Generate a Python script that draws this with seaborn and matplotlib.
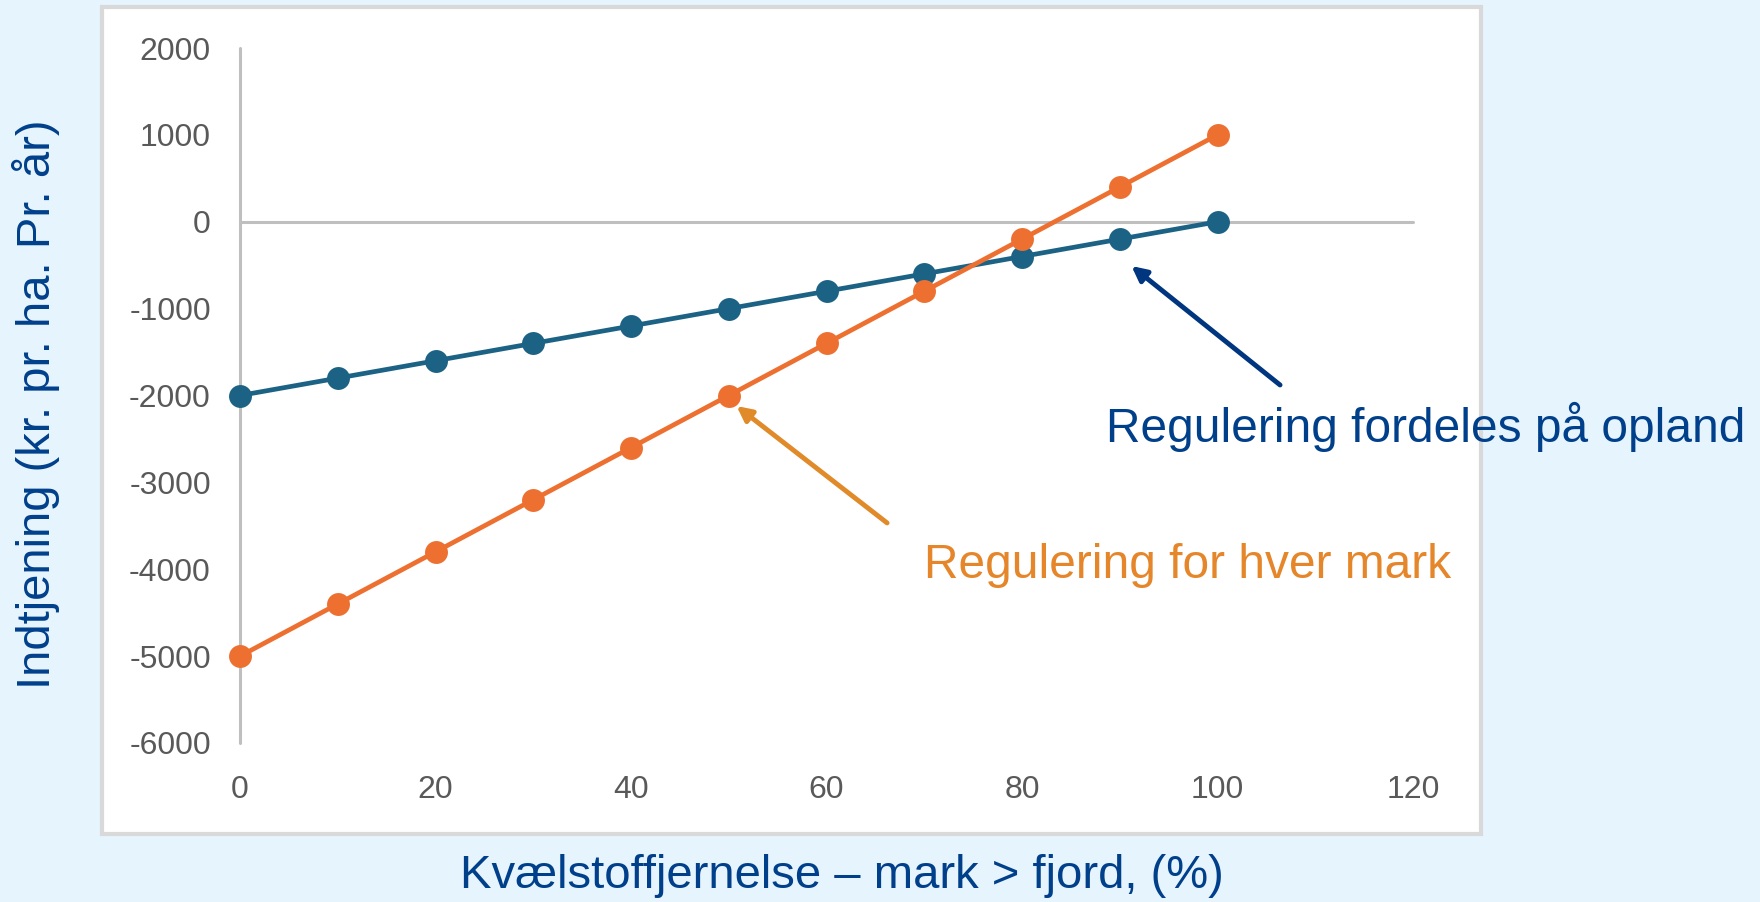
import matplotlib
matplotlib.use("Agg")
import matplotlib.pyplot as plt
import seaborn as sns
import pandas as pd
from matplotlib.patches import Rectangle

# Data
fjernelse = [0, 10, 20, 30, 40, 50, 60, 70, 80, 90, 100]
opland = [-2000, -1800, -1600, -1400, -1200, -1000, -800, -600, -400, -200, 0]
hver_mark = [-5000, -4400, -3800, -3200, -2600, -2000, -1400, -800, -200, 400, 1000]
serier = ["Regulering fordeles på opland", "Regulering for hver mark"]
x_ticks = [0, 20, 40, 60, 80, 100, 120]
y_ticks = [-6000, -5000, -4000, -3000, -2000, -1000, 0, 1000, 2000]

df = pd.concat([
    pd.DataFrame({"x": fjernelse, "y": opland, "serie": serier[0]}),
    pd.DataFrame({"x": fjernelse, "y": hver_mark, "serie": serier[1]}),
])

sns.set_style("white")
plt.rcParams["font.family"] = ["Liberation Sans", "DejaVu Sans"]
plt.rcParams["axes.unicode_minus"] = False

bg = "#E6F4FE"
blaa_tekst = "#003F8A"
orange_tekst = "#E5862A"
farver = {serier[0]: "#1B6285", serier[1]: "#ED7031"}

fig = plt.figure(figsize=(17.6, 9.02), dpi=100, facecolor=bg)

# white chart panel with light grey border
panel = Rectangle((102 / 1760, 1 - 834 / 902), (1481 - 102) / 1760, (834 - 7) / 902,
                  transform=fig.transFigure, facecolor="white", edgecolor="#D9D9D9",
                  linewidth=3, zorder=-1)
fig.patches.append(panel)

ax = fig.add_axes([240 / 1760, 1 - 743 / 902, (1413 - 240) / 1760, (743 - 48) / 902])
ax.set_facecolor("none")

# axis lines (Excel style: x axis crosses at 0)
ax.plot([0, 120], [0, 0], color="#BFBFBF", linewidth=2.2, zorder=1, clip_on=False)
ax.plot([0, 0], [-6000, 2000], color="#BFBFBF", linewidth=2.2, zorder=1, clip_on=False)

sns.lineplot(data=df, x="x", y="y", hue="serie", palette=farver, marker="o",
             markersize=16.5, markeredgewidth=0, linewidth=3.4, legend=False, ax=ax, zorder=3)
for ln in ax.lines:
    ln.set_clip_on(False)

ax.set_xlim(0, 120)
ax.set_ylim(-6000, 2000)
ax.set_xticks(x_ticks)
ax.set_yticks(y_ticks)
ax.tick_params(axis="both", length=0, labelsize=23, labelcolor="#595959")
ax.tick_params(axis="y", pad=21)
ax.tick_params(axis="x", pad=23)
ax.set_xlabel("")
ax.set_ylabel("")
for s in ax.spines.values():
    s.set_visible(False)

# annotations
ax.annotate("", xy=(91.2, -509), xytext=(106.4, -1879),
            arrowprops=dict(arrowstyle="-|>", color="#003580", lw=3.5,
                            mutation_scale=22, shrinkA=0, shrinkB=0), annotation_clip=False)
ax.annotate("", xy=(50.8, -2121), xytext=(66.2, -3467),
            arrowprops=dict(arrowstyle="-|>", color="#E08A2A", lw=3.5,
                            mutation_scale=22, shrinkA=0, shrinkB=0), annotation_clip=False)

fig.text(1106 / 1760, 1 - 427 / 902, serier[0], color=blaa_tekst, fontsize=34.5,
         ha="left", va="center")
fig.text(924 / 1760, 1 - 565 / 902, serier[1], color=orange_tekst, fontsize=34.5,
         ha="left", va="center")

fig.text(36 / 1760, 1 - 404 / 902, "Indtjening (kr. pr. ha. Pr. år)", color=blaa_tekst,
         fontsize=34, rotation=90, ha="center", va="center")
fig.text(842 / 1760, 1 - 876 / 902, "Kvælstoffjernelse – mark > fjord, (%)", color=blaa_tekst,
         fontsize=34, ha="center", va="center")

fig.savefig("out.png", dpi=100, facecolor=bg)
